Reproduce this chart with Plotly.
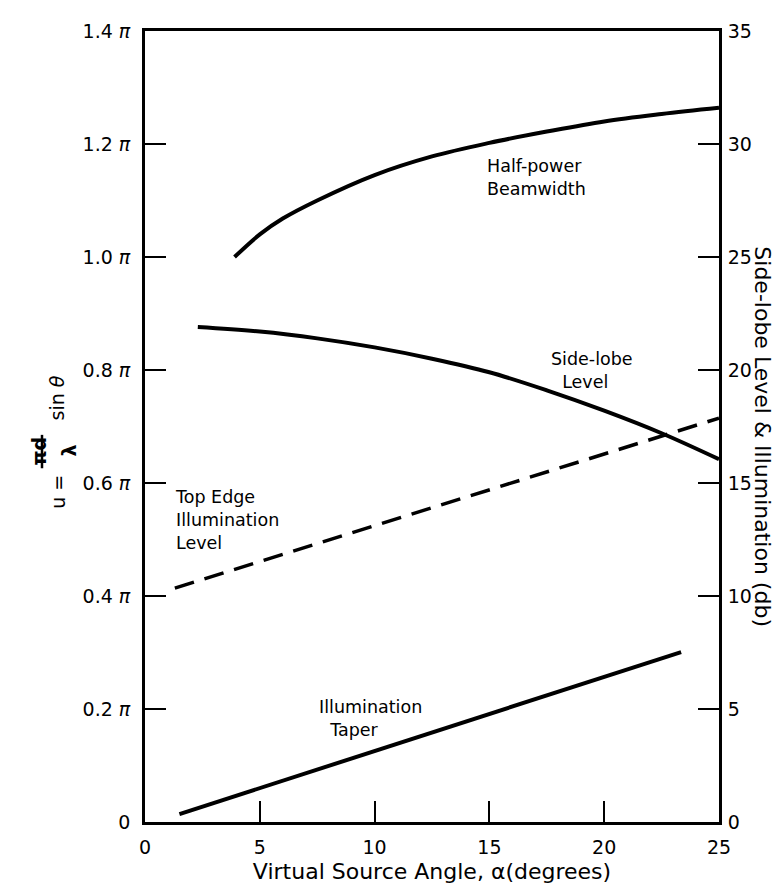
import plotly.graph_objects as go

# ---- data ----
hp_x = [3.9, 5, 6, 7.5, 10, 12.5, 15, 17.5, 20, 22.5, 25]
hp_u = [1.0, 1.04, 1.068, 1.10, 1.145, 1.178, 1.202, 1.222, 1.24, 1.253, 1.264]  # units of pi

sl_x = [2.3, 5, 7.5, 10, 12.5, 15, 17.5, 20, 22.5, 25]
sl_db = [21.9, 21.7, 21.4, 21.0, 20.5, 19.9, 19.1, 18.2, 17.2, 16.05]

te_x = [1.3, 25]
te_db = [10.35, 17.87]

it_x = [1.5, 23.35]
it_db = [0.35, 7.52]

x_ticks = [0, 5, 10, 15, 20, 25]
u_ticks = [0, 0.2, 0.4, 0.6, 0.8, 1.0, 1.2, 1.4]
u_labels = ["0", "0.2 <i>π</i>", "0.4 <i>π</i>", "0.6 <i>π</i>", "0.8 <i>π</i>",
            "1.0 <i>π</i>", "1.2 <i>π</i>", "1.4 <i>π</i>"]
db_ticks = [0, 5, 10, 15, 20, 25, 30, 35]

FONT = "DejaVu Sans"
W, H = 784, 884
L, R, T, B = 137, 73, 16, 63
PW, PH = W - L - R, H - T - B


def px(xp):
    return (xp - L) / PW


def py(yp):
    return 1 - (yp - T) / PH


fig = go.Figure()
solid = dict(color="black", width=4, shape="spline")
fig.add_trace(go.Scatter(x=hp_x, y=hp_u, mode="lines", line=solid, yaxis="y"))
fig.add_trace(go.Scatter(x=sl_x, y=sl_db, mode="lines", line=solid, yaxis="y2"))
fig.add_trace(go.Scatter(x=te_x, y=te_db, mode="lines",
                         line=dict(color="black", width=3.5, dash="20px,11px"), yaxis="y2"))
fig.add_trace(go.Scatter(x=it_x, y=it_db, mode="lines",
                         line=dict(color="black", width=4), yaxis="y2"))

axis_common = dict(showgrid=False, zeroline=False, showline=True, linecolor="black",
                   linewidth=2.8, ticks="inside", ticklen=21, tickwidth=2,
                   tickcolor="black", tickfont=dict(family=FONT, size=19, color="black"))

fig.update_layout(
    width=W, height=H,
    margin=dict(l=L, r=R, t=T, b=B, pad=0),
    paper_bgcolor="white", plot_bgcolor="white",
    showlegend=False,
    font=dict(family=FONT, size=17, color="black"),
    xaxis=dict(range=[0, 25], tickvals=x_ticks, mirror=True, ticklabelstandoff=6,
               title=dict(text="Virtual Source Angle, α(degrees)",
                          font=dict(family=FONT, size=22), standoff=7),
               **axis_common),
    yaxis=dict(range=[0, 1.4], tickvals=u_ticks, ticktext=u_labels,
               ticklabelstandoff=8, **axis_common),
    yaxis2=dict(range=[0, 35], tickvals=db_ticks, overlaying="y", side="right",
                ticklabelstandoff=2, **axis_common),
)

ann = []
lab_font = dict(family=FONT, size=17.5, color="black")
ann.append(dict(x=14.8, y=28.5, xref="x", yref="y2", yanchor="middle", xanchor="left",
                text="Half-power<br>Beamwidth", showarrow=False, align="left", font=lab_font))
ann.append(dict(x=17.6, y=20.0, xref="x", yref="y2", yanchor="middle", xanchor="left",
                text="Side-lobe<br>  Level", showarrow=False, align="left", font=lab_font))
ann.append(dict(x=1.2, y=13.35, xref="x", yref="y2", yanchor="middle", xanchor="left",
                text="Top Edge<br>Illumination<br>Level", showarrow=False, align="left",
                font=lab_font))
ann.append(dict(x=7.5, y=4.6, xref="x", yref="y2", yanchor="middle", xanchor="left",
                text="Illumination<br>  Taper", showarrow=False, align="left", font=lab_font))

# right axis title (reads top to bottom)
ann.append(dict(x=px(769), y=py(429), xref="paper", yref="paper", showarrow=False,
                text="Side-lobe Level & Illumination (db)", textangle=90,
                font=dict(family=FONT, size=22, color="black")))

# left axis title: u = (πd / λ) sin θ
tf = dict(family=FONT, size=19, color="black")
ann.append(dict(x=px(37), y=py(485), xref="paper", yref="paper", showarrow=False,
                text="u =", textangle=-90, font=tf))
ann.append(dict(x=px(18), y=py(444), xref="paper", yref="paper", showarrow=False,
                text="<b>πd</b>", textangle=-90, font=tf))
ann.append(dict(x=px(48), y=py(443), xref="paper", yref="paper", showarrow=False,
                text="<b>λ</b>", textangle=-90, font=tf))
ann.append(dict(x=px(36), y=py(390), xref="paper", yref="paper", showarrow=False,
                text="sin <i>θ</i>", textangle=-90, font=tf))
fig.update_layout(annotations=ann)

fig.add_shape(type="line", xref="paper", yref="paper",
              x0=px(34), x1=px(34), y0=py(427), y1=py(461),
              line=dict(color="black", width=2.5))

fig.write_html("out.html")
